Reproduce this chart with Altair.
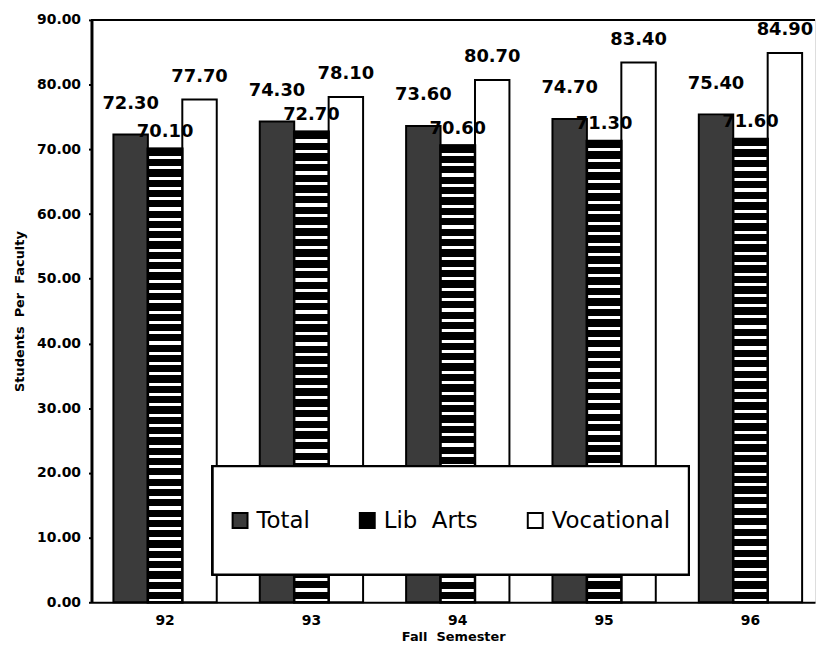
import altair as alt
import pandas as pd

# ---- data ----
years = ["92", "93", "94", "95", "96"]
series = ["Total", "Lib Arts", "Vocational"]
total = [72.3, 74.3, 73.6, 74.7, 75.4]
lib_arts = [70.1, 72.7, 70.6, 71.3, 71.6]
vocational = [77.7, 78.1, 80.7, 83.4, 84.9]

rows = []
for i, y in enumerate(years):
    for s, vals in zip(series, [total, lib_arts, vocational]):
        rows.append({"year": y, "series": s, "value": vals[i]})
df = pd.DataFrame(rows)

W, H = 728, 586
FONT = "DejaVu Sans"


def stripes(n, on, off, frac):
    stops = []
    for i in range(n):
        a, b, c = i / n, (i + frac) / n, (i + 1) / n
        stops += [
            {"offset": a, "color": on},
            {"offset": b, "color": on},
            {"offset": b, "color": off},
            {"offset": c, "color": off},
        ]
    return {"gradient": "linear", "x1": 0, "y1": 0, "x2": 0, "y2": 1, "stops": stops}


x_enc = alt.X(
    "year:N",
    sort=years,
    scale=alt.Scale(paddingInner=0.294, paddingOuter=0.119, align=0.63),
    axis=alt.Axis(
        title="Fall\u00a0\u00a0Semester",
        labelAngle=0,
        ticks=False,
        labelPadding=11,
        titlePadding=3,
        domainWidth=2,
        domainColor="black",
        labelFont=FONT,
        labelFontWeight="bold",
        labelFontSize=14,
        labelColor="black",
        titleFont=FONT,
        titleFontWeight="bold",
        titleFontSize=13,
        titleColor="black",
    ),
)
xoff = alt.XOffset("series:N", sort=series, scale=alt.Scale(domain=series, paddingInner=0))
y_enc = alt.Y(
    "value:Q",
    scale=alt.Scale(domain=[0, 90], nice=False),
    axis=alt.Axis(
        title="Students\u00a0\u00a0Per\u00a0\u00a0Faculty",
        values=list(range(0, 91, 10)),
        format=".2f",
        grid=False,
        tickSize=3,
        tickColor="black",
        tickWidth=2,
        domainWidth=3,
        domainColor="black",
        labelPadding=8,
        titlePadding=10,
        labelFont=FONT,
        labelFontWeight="bold",
        labelFontSize=14,
        labelColor="black",
        titleFont=FONT,
        titleFontWeight="bold",
        titleFontSize=13,
        titleColor="black",
    ),
)

base = alt.Chart(df)

bars = base.mark_bar(stroke="black", strokeWidth=2).encode(
    x=x_enc,
    xOffset=xoff,
    y=y_enc,
    fill=alt.Fill(
        "series:N",
        sort=series,
        scale=alt.Scale(domain=series, range=["#3b3b3b", "#000000", "#ffffff"]),
        legend=alt.Legend(
            title=None,
            orient="none",
            legendX=138,
            legendY=492,
            direction="horizontal",
            columns=3,
            columnPadding=46,
            symbolType="square",
            symbolSize=225,
            symbolStrokeColor="black",
            symbolStrokeWidth=2,
            labelFont=FONT,
            labelFontSize=23,
            labelColor="black",
            labelOffset=5,
            labelExpr="datum.label == 'Lib Arts' ? 'Lib\u00a0\u00a0Arts' : datum.label",
            padding=0,
        ),
    ),
)

lib_bars = (
    base.transform_filter(alt.datum.series == "Lib Arts")
    .mark_bar(stroke="black", strokeWidth=2.5, fill=stripes(44, "#000000", "#ffffff", 0.7))
    .encode(x=x_enc, xOffset=xoff, y=y_enc)
)

label_dy = {"Total": -26, "Lib Arts": -12, "Vocational": -18}
texts = []
for s in series:
    texts.append(
        base.transform_filter(alt.datum.series == s)
        .mark_text(
            font=FONT,
            fontWeight="bold",
            fontSize=18,
            color="black",
            baseline="alphabetic",
            dy=label_dy[s],
        )
        .encode(x=x_enc, xOffset=xoff, y=y_enc, text=alt.Text("value:Q", format=".2f"))
    )

top_line = alt.Chart(df).mark_rule(color="black", strokeWidth=2).encode(
    x=alt.value(0), x2=alt.value(W), y=alt.value(0)
)

legend_box = alt.Chart(df).mark_rect(fill="white", stroke="black", strokeWidth=2).encode(
    x=alt.value(122), x2=alt.value(601), y=alt.value(449), y2=alt.value(558)
)

chart = (
    alt.layer(bars, lib_bars, *texts, top_line, legend_box)
    .properties(width=W, height=H, padding={"left": 5, "top": 3, "right": 0, "bottom": 0})
    .configure_view(stroke=None)
    .configure(background="white")
)

chart.save("out.html", embed_options={"renderer": "svg", "actions": False})
